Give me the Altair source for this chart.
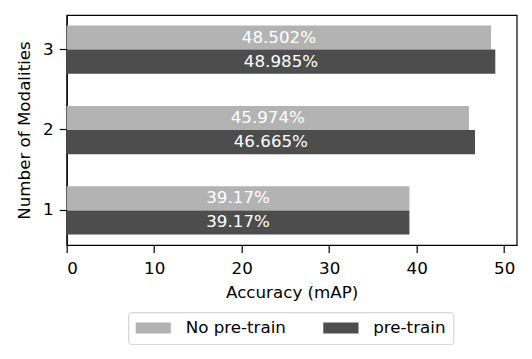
import altair as alt
import pandas as pd

modalities = ["3", "2", "1"]
series = ["No pre-train", "pre-train"]
no_pretrain = [48.502, 45.974, 39.17]
pretrain = [48.985, 46.665, 39.17]
colors = ["#b3b3b3", "#4d4d4d"]

rows = []
for m, a, b in zip(modalities, no_pretrain, pretrain):
    rows.append({"Modalities": m, "Series": series[0], "Acc": a, "Label": f"{a}%", "Mid": a / 2})
    rows.append({"Modalities": m, "Series": series[1], "Acc": b, "Label": f"{b}%", "Mid": b / 2})
df = pd.DataFrame(rows)

font = "DejaVu Sans"
fs = 16.7

y_enc = alt.Y("Modalities:N", sort=modalities,
              scale=alt.Scale(paddingInner=0.4, paddingOuter=0.13),
              axis=alt.Axis(title="Number of Modalities", labelAngle=0))
yoff = alt.YOffset("Series:N", sort=series, scale=alt.Scale(paddingInner=0, paddingOuter=0))

bars = alt.Chart(df).mark_bar().encode(
    x=alt.X("Acc:Q", scale=alt.Scale(domain=[0, 51.43], nice=False, zero=True),
            axis=alt.Axis(title="Accuracy (mAP)", values=[0, 10, 20, 30, 40, 50], format="d")),
    y=y_enc,
    yOffset=yoff,
    color=alt.Color("Series:N", sort=series,
                    scale=alt.Scale(domain=series, range=colors),
                    legend=alt.Legend(
                        title=None, orient="none", direction="horizontal",
                        legendX=61.6, legendY=297.3,
                        symbolType="M-3.2,-1H3.2V1H-3.2Z", symbolSize=121,
                        symbolOffset=9.65, symbolStrokeWidth=0,
                        labelOffset=24, columnPadding=36.6,
                        padding=7, strokeColor="#cccccc", cornerRadius=3,
                        labelFontSize=fs, labelFont=font, labelColor="black",
                        fillColor="white")),
)

text = alt.Chart(df).mark_text(color="white", fontSize=fs, font=font, baseline="middle").encode(
    x="Mid:Q",
    y=alt.Y("Modalities:N", sort=modalities),
    yOffset=alt.YOffset("Series:N", sort=series),
    text="Label:N",
)

chart = alt.layer(bars, text).properties(
    width=450, height=230,
    autosize=alt.AutoSizeParams(type="none"),
    padding={"left": 58.7, "top": 7, "right": 7, "bottom": 100},
).configure_view(
    stroke="black", strokeWidth=1.2
).configure_axis(
    labelFont=font, titleFont=font, labelFontSize=fs, titleFontSize=fs,
    titleFontWeight="normal", labelColor="black", titleColor="black",
    domainColor="black", tickColor="black", tickSize=7.5, grid=False,
    domainWidth=1.2, tickWidth=1.2,
).configure_axisY(
    titlePadding=9, labelPadding=6
).configure_axisX(
    titlePadding=7, labelPadding=8.5
)

chart.save("out.html", embed_options={"renderer": "svg", "actions": False})
